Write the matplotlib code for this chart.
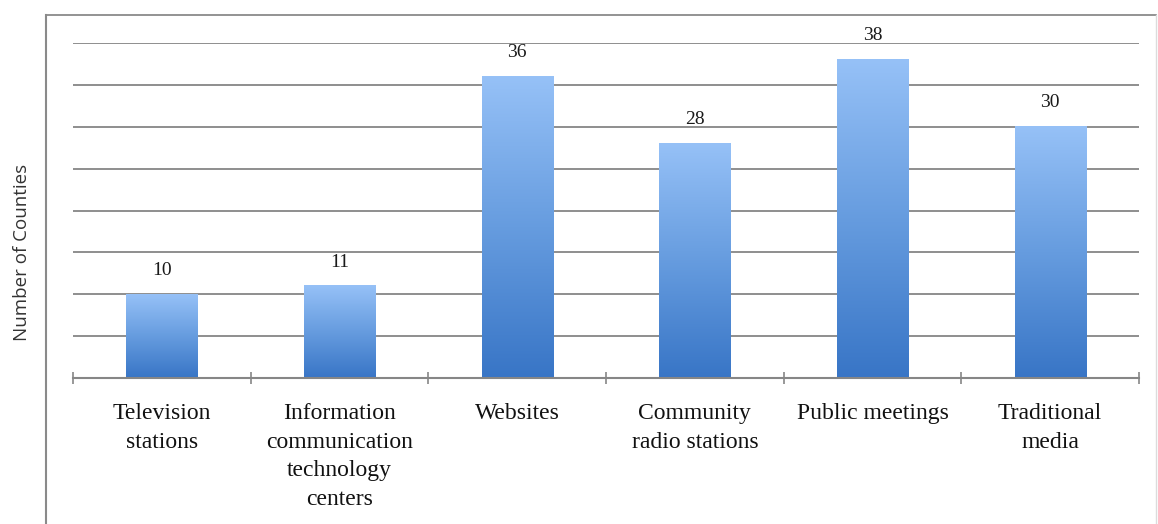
import numpy as np
import matplotlib
matplotlib.use("Agg")
import matplotlib.pyplot as plt
from matplotlib.colors import LinearSegmentedColormap
from matplotlib.lines import Line2D

categories = [
    "Television\nstations",
    "Information\ncommunication\ntechnology\ncenters",
    "Websites",
    "Community\nradio stations",
    "Public meetings",
    "Traditional\nmedia",
]
counties = [10, 11, 36, 28, 38, 30]
y_ticks = [0, 5, 10, 15, 20, 25, 30, 35, 40]

W, H = 1158, 524
fig = plt.figure(figsize=(W / 100, H / 100), dpi=100)
ax = fig.add_axes([73 / W, 1 - 378 / H, (1139 - 73) / W, (378 - 43) / H])

x = np.arange(len(categories))
bars = ax.bar(x, counties, width=0.4, color="none", edgecolor="none", zorder=2)

# vertical light-to-dark blue fill, one gradient per bar
grad_cmap = LinearSegmentedColormap.from_list("bar", ["#3875C6", "#669CDF", "#96C1F7"])
grad = np.linspace(0, 1, 256).reshape(-1, 1)
for b in bars:
    x0, w, h = b.get_x(), b.get_width(), b.get_height()
    ax.imshow(grad, cmap=grad_cmap, origin="lower", aspect="auto",
              extent=[x0, x0 + w, 0, h], zorder=2)
    ax.annotate(f"{h:g}", (x0 + w / 2, h), xytext=(0, 11), textcoords="offset points",
                ha="center", va="bottom", fontsize=14, family="Liberation Serif",
                color="#1a1a1a", annotation_clip=False)

ax.set_xlim(-0.5, len(categories) - 0.5)
ax.set_ylim(0, 40)
ax.set_yticks(y_ticks)
ax.yaxis.grid(True, color="#868686", lw=1.3)
ax.set_axisbelow(True)
ax.tick_params(axis="y", length=0, labelleft=False)

ax.set_xticks(x)
ax.set_xticklabels(categories, family="Liberation Serif", fontsize=17, color="#111111",
                   linespacing=1.48)
ax.set_xticks(np.arange(-0.5, len(categories)), minor=True)
ax.tick_params(axis="x", which="major", length=0, pad=18)
ax.tick_params(axis="x", which="minor", length=9, direction="inout",
               color="#868686", width=1.2)

for s in ("top", "right", "left"):
    ax.spines[s].set_visible(False)
ax.spines["bottom"].set_color("#868686")
ax.spines["bottom"].set_linewidth(1.5)

fig.text(22 / W, 1 - 252 / H, "Number of Counties", rotation=90, ha="center",
         va="center", family="Open Sans", fontsize=13.5, color="#333333")

# outer chart frame
fig.add_artist(Line2D([46 / W, 46 / W], [0, 1 - 15 / H], color="#8a8a8a", lw=1.5))
fig.add_artist(Line2D([46 / W, 1156 / W], [1 - 15 / H, 1 - 15 / H], color="#8a8a8a", lw=1.3))
fig.add_artist(Line2D([1156 / W, 1156 / W], [0, 1 - 15 / H], color="#dcdcdc", lw=1.0))

fig.savefig("out.png", dpi=100)
